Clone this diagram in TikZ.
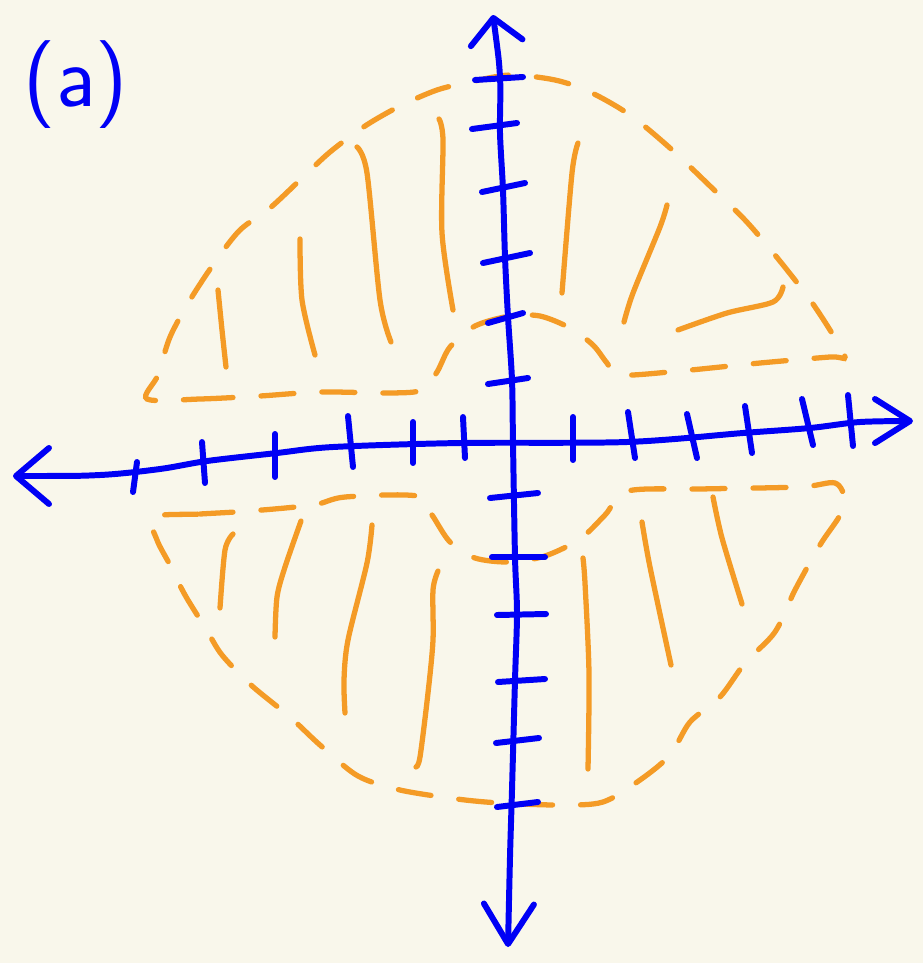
\documentclass[tikz,border=0pt]{standalone}
\usepackage{tikz}
\usetikzlibrary{arrows.meta}
\definecolor{paper}{HTML}{F9F7EB}
\definecolor{penblue}{HTML}{0000F5}
\definecolor{penorange}{HTML}{F49B26}

\begin{document}
\begin{tikzpicture}[
  x=0.01cm, y=-0.01cm,
  axis/.style={draw=penblue, line width=1.7pt, line cap=round, line join=round},
  rim/.style={draw=penorange, line width=1.5pt, line cap=round,
              dash pattern=on 0.33cm off 0.28cm},
  hatch/.style={draw=penorange, line width=1.5pt, line cap=round},
  lbl/.style={text=penblue, font=\sffamily\fontsize{25}{30}\selectfont, inner sep=0pt}
]
\fill[paper] (0,0) rectangle (923,963);
% label
\node[lbl] (tag) at (76,85) {(a)};
% upper region
\draw[rim] plot[smooth cycle, tension=0.5] coordinates {
  (147,399) (200,399) (260,396) (320,392) (390,393) (422,390) (437,372)
  (450,347) (475,326) (510,316) (540,316) (570,328) (593,345) (607,363)
  (620,375) (680,371) (760,363) (830,357) (845,357) (830,330) (808,297)
  (775,255) (745,220) (710,186) (670,148) (630,115) (590,92) (555,80)
  (510,75) (470,82) (437,90) (400,106) (365,126) (330,152) (300,180)
  (270,208) (240,230) (215,262) (190,300) (170,337) (158,375)};
\draw[hatch] plot[smooth] coordinates {(218,290) (222,330) (226,367)};
\draw[hatch] plot[smooth] coordinates {(300,239) (302,300) (315,355)};
\draw[hatch] plot[smooth] coordinates {(357,147) (367,173) (380,300) (391,342)};
\draw[hatch] plot[smooth] coordinates {(439,119) (443,140) (442,233) (453,310)};
\draw[hatch] plot[smooth] coordinates {(578,143) (572,173) (562,293)};
\draw[hatch] plot[smooth] coordinates {(667,205) (660,227) (633,293) (624,322)};
\draw[hatch] plot[smooth] coordinates {(678,330) (727,313) (773,302) (783,287)};
% lower region
\draw[rim] plot[smooth cycle, tension=0.5] coordinates {
  (153,517) (200,514) (250,511) (313,505) (345,497) (417,496) (432,515)
  (450,542) (475,558) (510,562) (545,556) (580,539) (605,515) (628,491)
  (700,489) (800,487) (835,483) (845,500) (839,517) (820,545) (795,590)
  (775,632) (745,663) (720,697) (690,722) (670,755) (640,780) (603,802)
  (560,805) (500,803) (457,799) (400,790) (358,776) (320,745) (290,717)
  (251,685) (222,655) (206,629) (185,595) (170,565) (157,540)};
\draw[hatch] plot[smooth] coordinates {(233,534) (225,550) (220,608)};
\draw[hatch] plot[smooth] coordinates {(301,521) (285,567) (277,597) (275,637)};
\draw[hatch] plot[smooth] coordinates {(372,525) (367,563) (348,640) (344,680) (345,713)};
\draw[hatch] plot[smooth] coordinates {(438,571) (433,590) (433,640) (428,693) (420,757) (416,767)};
\draw[hatch] plot[smooth] coordinates {(583,558) (585,583) (589,673) (588,769)};
\draw[hatch] plot[smooth] coordinates {(642,522) (650,567) (671,665)};
\draw[hatch] plot[smooth] coordinates {(713,497) (722,538) (742,604)};
% axes
\draw[axis, {Straight Barb[length=3.3mm,width=5.6mm,round]}-{Straight Barb[length=3.5mm,width=4.4mm,round]}]
  plot[smooth] coordinates {(13,476) (100,475) (160,469) (207,461) (277,453)
  (333,447) (460,443) (627,442) (743,433) (810,428) (860,422) (913,421)};
\draw[axis, {Straight Barb[length=2.5mm,width=5.2mm,round]}-{Straight Barb[length=4mm,width=5mm,round]}]
  plot[smooth] coordinates {(493,15) (500,77) (500,133) (503,190) (505,257)
  (508,317) (512,380) (513,443) (515,557) (517,613) (515,680) (512,790)
  (510,857) (508,947)};
% ticks on the horizontal axis
\foreach \xa/\ya/\xb/\yb in {137/462/133/492, 202/442/205/483, 275/434/275/477,
    348/416/353/467, 413/422/413/463, 463/417/465/458, 573/417/573/460,
    628/412/635/458, 687/414/697/458, 745/406/752/453, 802/399/813/445,
    848/395/853/446}
  \draw[axis] (\xa,\ya) -- (\xb,\yb);
% ticks on the vertical axis
\foreach \xa/\ya/\xb/\yb in {475/80/523/77, 472/129/517/123, 482/192/525/183,
    483/263/530/253, 488/323/523/313, 488/384/528/378, 490/498/538/493,
    492/557/545/557, 497/615/546/614, 498/682/545/679, 496/743/539/738,
    497/807/538/802}
  \draw[axis] (\xa,\ya) -- (\xb,\yb);
\end{tikzpicture}
\end{document}
